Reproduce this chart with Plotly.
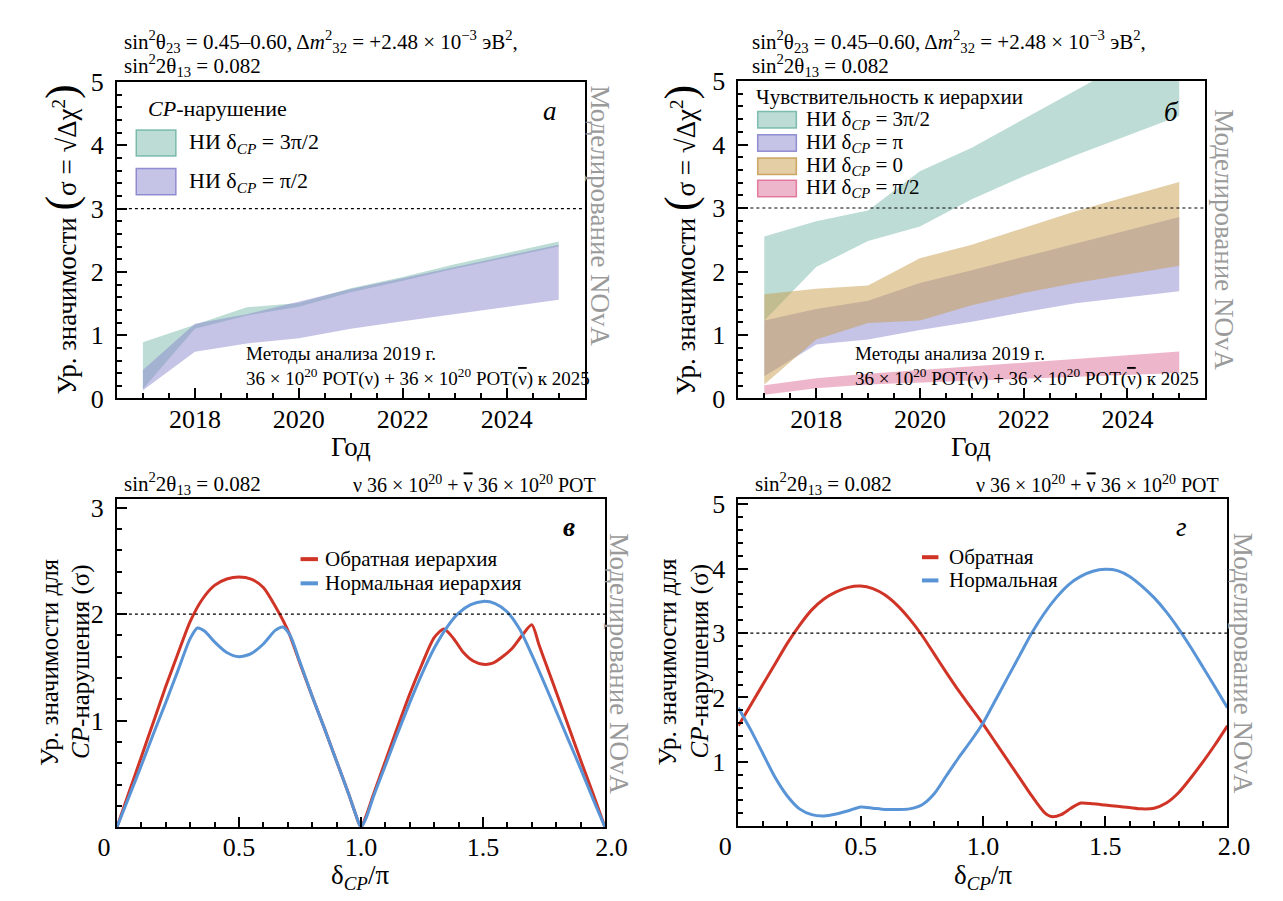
import plotly.graph_objects as go

W, H = 1283, 901
SERIF = "Liberation Serif, Times New Roman, Times, serif"

# ---------------- data ----------------
years = [2017, 2018, 2019, 2020, 2021, 2022, 2023, 2024, 2025]

# panel a: CP violation bands
a_3pi2_hi = [0.89, 1.16, 1.44, 1.51, 1.74, 1.92, 2.12, 2.30, 2.48]
a_3pi2_lo = [0.15, 1.10, 1.31, 1.45, 1.68, 1.86, 2.05, 2.23, 2.40]
a_pi2_hi = [0.45, 1.18, 1.33, 1.53, 1.73, 1.90, 2.08, 2.25, 2.43]
a_pi2_lo = [0.13, 0.74, 0.87, 0.95, 1.10, 1.22, 1.34, 1.45, 1.56]

# panel b: hierarchy sensitivity bands
b_3pi2_hi = [2.55, 2.79, 2.96, 3.58, 3.95, 4.40, 4.84, 5.30, 5.75]
b_3pi2_lo = [1.23, 2.07, 2.48, 2.71, 3.14, 3.50, 3.83, 4.14, 4.45]
b_pi_hi = [1.23, 1.41, 1.54, 1.82, 2.02, 2.23, 2.45, 2.66, 2.86]
b_pi_lo = [0.35, 0.85, 0.93, 1.08, 1.21, 1.36, 1.50, 1.60, 1.69]
b_0_hi = [1.64, 1.73, 1.78, 2.21, 2.42, 2.68, 2.95, 3.18, 3.41]
b_0_lo = [0.22, 0.93, 1.19, 1.23, 1.47, 1.66, 1.82, 1.96, 2.09]
b_pi2_hi = [0.21, 0.32, 0.39, 0.45, 0.51, 0.56, 0.62, 0.68, 0.74]
b_pi2_lo = [0.06, 0.16, 0.22, 0.25, 0.28, 0.31, 0.34, 0.37, 0.40]

# panel v: CP significance vs delta_CP
v_ih_x = [0, .05, .1, .15, .2, .25, .3, .35, .4, .45, .5, .55, .6, .65, .7, .75, .8, .85, .9, .95, .98, 1.0,
          1.02, 1.05, 1.1, 1.15, 1.2, 1.25, 1.3, 1.34, 1.38, 1.42, 1.46, 1.5, 1.54, 1.58, 1.62, 1.66, 1.7,
          1.73, 1.76, 1.8, 1.85, 1.9, 1.95, 2.0]
v_ih_y = [0, .33, .66, .99, 1.32, 1.63, 1.93, 2.14, 2.27, 2.33, 2.35, 2.33, 2.25, 2.07, 1.85, 1.54, 1.23, .93,
          .62, .31, .11, 0, .1, .3, .62, .94, 1.25, 1.53, 1.78, 1.86, 1.77, 1.64, 1.56, 1.53, 1.54, 1.6, 1.68,
          1.8, 1.9, 1.71, 1.52, 1.27, .95, .63, .32, 0]
v_nh_x = [0, .05, .1, .15, .2, .25, .3, .33, .36, .4, .45, .5, .55, .6, .65, .68, .71, .75, .8, .85, .9, .95,
          .98, 1.0, 1.02, 1.05, 1.1, 1.15, 1.2, 1.25, 1.3, 1.35, 1.4, 1.45, 1.5, 1.55, 1.6, 1.65, 1.7, 1.75,
          1.8, 1.85, 1.9, 1.95, 2.0]
v_nh_y = [0, .29, .58, .88, 1.17, 1.47, 1.77, 1.87, 1.84, 1.74, 1.64, 1.6, 1.63, 1.72, 1.85, 1.88, 1.8, 1.55,
          1.23, .93, .62, .31, .11, 0, .08, .28, .58, .88, 1.17, 1.44, 1.68, 1.87, 2.01, 2.09, 2.12, 2.1,
          2.02, 1.86, 1.62, 1.36, 1.09, .82, .55, .27, 0]

# panel g: hierarchy significance vs delta_CP
g_ih_x = [0, .05, .1, .15, .2, .25, .3, .35, .4, .45, .5, .55, .6, .65, .7, .75, .8, .85, .9, .95, 1.0,
          1.05, 1.1, 1.15, 1.2, 1.25, 1.28, 1.32, 1.36, 1.4, 1.45, 1.5, 1.55, 1.6, 1.65, 1.7, 1.75, 1.8,
          1.85, 1.9, 1.95, 2.0]
g_ih_y = [1.56, 1.88, 2.2, 2.52, 2.84, 3.12, 3.36, 3.53, 3.64, 3.71, 3.73, 3.69, 3.59, 3.43, 3.22, 2.97,
          2.68, 2.39, 2.11, 1.85, 1.59, 1.31, 1.03, .75, .47, .22, .15, .18, .28, .36, .35, .33, .31, .29,
          .27, .28, .36, .52, .75, 1.0, 1.27, 1.56]
g_nh_x = [0, .05, .1, .15, .2, .25, .3, .35, .4, .45, .5, .55, .6, .65, .7, .75, .8, .85, .9, .95, 1.0,
          1.05, 1.1, 1.15, 1.2, 1.25, 1.3, 1.35, 1.4, 1.45, 1.5, 1.55, 1.6, 1.65, 1.7, 1.75, 1.8, 1.85,
          1.9, 1.95, 2.0]
g_nh_y = [1.84, 1.5, 1.13, .76, .47, .27, .18, .16, .19, .24, .30, .28, .26, .26, .27, .33, .5, .78, 1.06,
          1.32, 1.6, 1.95, 2.3, 2.65, 3.0, 3.3, 3.55, 3.75, 3.88, 3.96, 3.99, 3.97, 3.88, 3.73, 3.55, 3.33,
          3.07, 2.78, 2.47, 2.16, 1.84]

# tick labels
yr_ticks = [2018, 2020, 2022, 2024]
d_ticks = [0, 0.5, 1.0, 1.5, 2.0]
d_text = ["0\u2007\u2007", "0.5", "1.0", "1.5", "\u20072.0"]

# legend labels
lab_3pi2 = "НИ δ<sub><i>CP</i></sub> = 3π/2"
lab_pi = "НИ δ<sub><i>CP</i></sub> = π"
lab_0 = "НИ δ<sub><i>CP</i></sub> = 0"
lab_pi2 = "НИ δ<sub><i>CP</i></sub> = π/2"
lab_ih_v, lab_nh_v = "Обратная иерархия", "Нормальная иерархия"
lab_ih_g, lab_nh_g = "Обратная", "Нормальная"

RED = "rgb(208,52,38)"
BLUE = "rgb(88,148,214)"
C_GREEN = "rgba(122,186,172,0.5)"
C_PURPLE = "rgba(140,135,205,0.5)"
C_TAN = "rgba(200,158,78,0.5)"
C_PINK = "rgba(222,110,150,0.5)"
E_GREEN = "rgba(100,175,160,0.8)"
E_PURPLE = "rgba(125,120,200,0.8)"
E_TAN = "rgba(195,150,70,0.8)"
E_PINK = "rgba(220,100,140,0.8)"

fig = go.Figure()


def band(x, lo, hi, color, name, xa, ya):
    return go.Scatter(x=list(x) + list(x)[::-1], y=list(hi) + list(lo)[::-1], fill="toself",
                      fillcolor=color, line=dict(width=0), mode="lines", name=name,
                      xaxis=xa, yaxis=ya, showlegend=False, hoverinfo="skip")


fig.add_trace(band(years, a_3pi2_lo, a_3pi2_hi, C_GREEN, lab_3pi2, "x", "y"))
fig.add_trace(band(years, a_pi2_lo, a_pi2_hi, C_PURPLE, lab_pi2, "x", "y"))

fig.add_trace(band(years, b_3pi2_lo, b_3pi2_hi, C_GREEN, lab_3pi2, "x2", "y2"))
fig.add_trace(band(years, b_pi_lo, b_pi_hi, C_PURPLE, lab_pi, "x2", "y2"))
fig.add_trace(band(years, b_0_lo, b_0_hi, C_TAN, lab_0, "x2", "y2"))
fig.add_trace(band(years, b_pi2_lo, b_pi2_hi, C_PINK, lab_pi2, "x2", "y2"))


def curve(x, y, color, name, xa, ya):
    return go.Scatter(x=x, y=y, mode="lines", name=name, xaxis=xa, yaxis=ya, showlegend=False,
                      line=dict(color=color, width=3, shape="spline", smoothing=0.7))


fig.add_trace(curve(v_ih_x, v_ih_y, RED, lab_ih_v, "x3", "y3"))
fig.add_trace(curve(v_nh_x, v_nh_y, BLUE, lab_nh_v, "x3", "y3"))
fig.add_trace(curve(g_ih_x, g_ih_y, RED, lab_ih_g, "x4", "y4"))
fig.add_trace(curve(g_nh_x, g_nh_y, BLUE, lab_nh_g, "x4", "y4"))


def px(x):
    return x / W


def py(y):
    return 1 - y / H


def axis(dom, rng, xaxis_like, **kw):
    d = dict(domain=dom, range=rng, showline=True, linecolor="black", linewidth=2, mirror=True,
             ticks="inside", ticklen=10, tickwidth=2, tickcolor="black", showgrid=False, zeroline=False,
             tickfont=dict(family=SERIF, size=26, color="black"),
             ticklabelstandoff=(-4 if xaxis_like else 6))
    d.update(kw)
    return d


minor_x_year = dict(ticks="inside", ticklen=5, tickwidth=2, tickcolor="black", dtick=0.5, tick0=2017, showgrid=False)
minor_y = dict(ticks="inside", ticklen=5, tickwidth=2, tickcolor="black", dtick=0.2, tick0=0, showgrid=False)
minor_x_d = dict(ticks="inside", ticklen=5, tickwidth=2, tickcolor="black", dtick=0.1, tick0=0, showgrid=False)

fig.update_layout(
    width=W, height=H, margin=dict(l=0, r=0, t=0, b=0),
    paper_bgcolor="white", plot_bgcolor="white", showlegend=False,
    xaxis=axis([px(92), px(576)], [2016.5, 2025.5], True, tickvals=yr_ticks, minor=minor_x_year, anchor="y"),
    yaxis=axis([py(389), py(62)], [0, 5], False, tickvals=[0, 1, 2, 3, 4, 5], minor=minor_y, anchor="x"),
    xaxis2=axis([px(735), px(1218)], [2016.5, 2025.5], True, tickvals=yr_ticks, minor=minor_x_year, anchor="y2"),
    yaxis2=axis([py(389), py(61)], [0, 5], False, tickvals=[0, 1, 2, 3, 4, 5], minor=minor_y, anchor="x2"),
    xaxis3=axis([px(92), px(597)], [0, 2], True, tickvals=d_ticks, ticktext=d_text, minor=minor_x_d, anchor="y3"),
    yaxis3=axis([py(832), py(493)], [0, 3.08], False, tickvals=[1, 2, 3], minor=minor_y, anchor="x3"),
    xaxis4=axis([px(735), px(1241)], [0, 2], True, tickvals=d_ticks, ticktext=d_text, minor=minor_x_d, anchor="y4"),
    yaxis4=axis([py(831), py(493)], [0, 5.08], False, tickvals=[1, 2, 3, 4, 5], minor=minor_y, anchor="x4"),
)

# reference (dotted) lines
for xa, ya, yv in [("x", "y", 3), ("x2", "y2", 3), ("x3", "y3", 2), ("x4", "y4", 3)]:
    fig.add_shape(type="line", xref=xa + " domain", yref=ya, x0=0, x1=1, y0=yv, y1=yv,
                  line=dict(color="black", width=1.2, dash="dot"))

ann = []


def A(text, x, y, size, xanchor="left", yanchor="middle", angle=0, color="black"):
    ann.append(dict(text=text, x=px(x), y=py(y), xref="paper", yref="paper", xanchor=xanchor,
                    yanchor=yanchor, textangle=angle, showarrow=False,
                    font=dict(family=SERIF, size=size, color=color)))


# ---- legends (swatch + label) ----
def box_swatch(x0, x1, y0, y1, fill, edge):
    fig.add_shape(type="rect", xref="paper", yref="paper", x0=px(x0), x1=px(x1), y0=py(y1), y1=py(y0),
                  fillcolor=fill, line=dict(color=edge, width=1.5), layer="above")


def line_swatch(x0, x1, y, color):
    fig.add_shape(type="line", xref="paper", yref="paper", x0=px(x0), x1=px(x1), y0=py(y), y1=py(y),
                  line=dict(color=color, width=4), layer="above")


# legend a
A("<i>CP</i>-нарушение", 122, 89, 22)
for (lbl, fc, ec), yc in zip([(lab_3pi2, C_GREEN, E_GREEN), (lab_pi2, C_PURPLE, E_PURPLE)], [125, 165]):
    box_swatch(112, 153, yc - 13.5, yc + 13.5, fc, ec)
    A(lbl, 164, yc, 22)

# legend b
A("Чувствительность к иерархии", 751, 77, 21)
for (lbl, fc, ec), yc in zip([(lab_3pi2, C_GREEN, E_GREEN), (lab_pi, C_PURPLE, E_PURPLE),
                              (lab_0, C_TAN, E_TAN), (lab_pi2, C_PINK, E_PINK)], [101, 125, 149, 172]):
    box_swatch(755, 795, yc - 8.5, yc + 8.5, fc, ec)
    A(lbl, 803, yc, 21)

# legend v
for (lbl, col), yc in zip([(lab_ih_v, RED), (lab_nh_v, BLUE)], [555, 580]):
    line_swatch(282, 300, yc, col)
    A(lbl, 305, yc, 21)

# legend g
for (lbl, col), yc in zip([(lab_ih_g, RED), (lab_nh_g, BLUE)], [553, 577]):
    line_swatch(925, 942, yc, col)
    A(lbl, 951, yc, 21)

NUBAR = "<span style='text-decoration:overline'>ν</span>"
top1 = "sin<sup>2</sup>θ<sub>23</sub> = 0.45–0.60, Δ<i>m</i><sup>2</sup><sub>32</sub> = +2.48 × 10<sup>−3</sup> эВ<sup>2</sup>,"
top2 = "sin<sup>2</sup>2θ<sub>13</sub> = 0.082"
pot = "ν 36 × 10<sup>20</sup> + " + NUBAR + " 36 × 10<sup>20</sup> POT"
meth1 = "Методы анализа 2019 г."
meth2 = "36 × 10<sup>20</sup> POT(ν) + 36 × 10<sup>20</sup> POT(" + NUBAR + ") к 2025"
nova = "Моделирование NOvA"
ytitle_a = ("Ур. значимости <span style='font-size:44px'>(</span>σ = √Δχ<sup>2</sup>"
            "<span style='font-size:44px'>)</span>")

# panel a
A(top1, 97, 20, 21)
A(top2, 97, 45, 21)
A("<i>а</i>", 540, 92, 27, xanchor="center")
A(nova, 592, 200, 27, xanchor="center", angle=90, color="#9a9a9a")
A(meth1, 224, 343, 19)
A(meth2, 224, 367, 19)
A("Год", 334, 439, 27, xanchor="center")
A(ytitle_a, 35, 225, 27, xanchor="center", angle=-90)

# panel b
A(top1, 747, 20, 21)
A(top2, 747, 45, 21)
A("<i>б</i>", 1183, 93, 27, xanchor="center")
A(nova, 1238, 225, 27, xanchor="center", angle=90, color="#9a9a9a")
A(meth1, 854, 343, 19)
A(meth2, 854, 367, 19)
A("Год", 976, 439, 27, xanchor="center")
A(ytitle_a, 675, 225, 27, xanchor="center", angle=-90)

# panel v
A(top2, 97, 477, 21)
A(pot, 590, 477, 20, xanchor="right")
A("<b><i>в</i></b>", 560, 522, 27, xanchor="center")
A(nova, 612, 663, 27, xanchor="center", angle=90, color="#9a9a9a")
A("δ<sub><i>CP</i></sub>/π", 344, 883, 27, xanchor="center")
A("Ур. значимости для", 22, 661, 25, xanchor="center", angle=-90)
A("<i>CP</i>-нарушения (σ)", 55, 661, 25, xanchor="center", angle=-90)

# panel g
A(top2, 750, 477, 21)
A(pot, 1234, 477, 20, xanchor="right")
A("<i>г</i>", 1193, 522, 27, xanchor="center")
A(nova, 1258, 663, 27, xanchor="center", angle=90, color="#9a9a9a")
A("δ<sub><i>CP</i></sub>/π", 988, 883, 27, xanchor="center")
A("Ур. значимости для", 662, 661, 25, xanchor="center", angle=-90)
A("<i>CP</i>-нарушения (σ)", 695, 661, 25, xanchor="center", angle=-90)

fig.update_layout(annotations=ann)

fig.write_html("out.html")
